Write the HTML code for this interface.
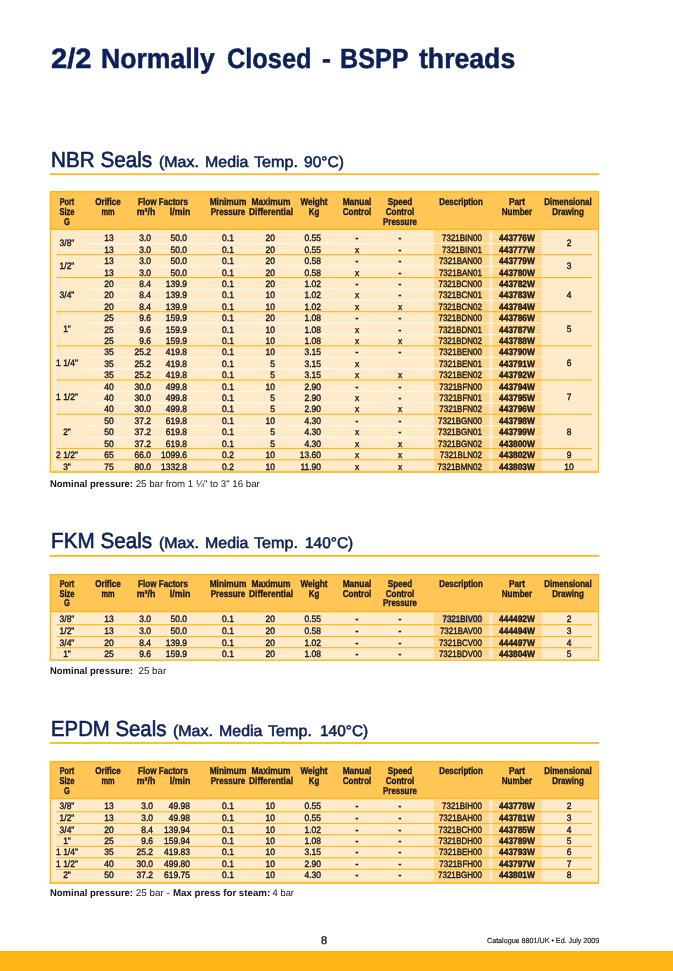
<!DOCTYPE html>
<html lang="en"><head><meta charset="utf-8"><title>2/2 Normally Closed - BSPP threads</title>
<style>

html,body{margin:0;padding:0;background:#fff}
#page{position:relative;width:673px;height:971px;overflow:hidden;background:#fff;font-family:"Liberation Sans",sans-serif}
#bg{position:absolute;left:0;top:0}
.t{text-rendering:geometricPrecision;position:absolute;white-space:pre;line-height:1;margin:0;padding:0;font-weight:400;display:block;--s:1}
.b{font-weight:700}
.l{transform:scaleX(var(--s));transform-origin:0 50%}
.c{transform:translateX(-50%) scaleX(var(--s));transform-origin:50% 50%}
.r{transform:translateX(-100%) scaleX(var(--s));transform-origin:100% 50%}
.p{display:inline-block;width:0;height:0;vertical-align:baseline}
.f0{font-size:27.8px;color:#0d2058;-webkit-text-stroke:0.5px #0d2058}
.f1{font-size:21.8px;color:#0d2058;-webkit-text-stroke:0.6px #0d2058}
.f2{font-size:15.4px;color:#0d2058;-webkit-text-stroke:0.55px #0d2058}
.f3{font-size:9.9px;color:#15151a;-webkit-text-stroke:0.32px #15151a}
.f4{font-size:9.3px;color:#15151a;-webkit-text-stroke:0.38px #15151a}
.f5{font-size:9.7px;color:#15151a}
.f6{font-size:11.2px;color:#15151a;-webkit-text-stroke:0.35px #15151a}
.f7{font-size:7.4px;color:#15151a;-webkit-text-stroke:0.15px #15151a}

</style></head>
<body><div id="page">
<svg id="bg" width="673" height="971" viewBox="0 0 673 971">
<rect x="49.80" y="173.30" width="549.50" height="1.80" fill="#fdb71a"/>
<rect x="49.80" y="554.95" width="549.50" height="1.80" fill="#fdb71a"/>
<rect x="49.80" y="742.10" width="549.50" height="1.80" fill="#fdb71a"/>
<rect x="49.70" y="190.90" width="549.50" height="39.10" fill="#fdb71a"/>
<rect x="51.20" y="192.40" width="546.70" height="36.20" fill="#ffc656"/>
<rect x="49.70" y="230.00" width="549.50" height="242.80" fill="#fdb71a"/>
<rect x="51.10" y="230.00" width="546.80" height="240.90" fill="#ffeaca"/>
<rect x="434.00" y="230.00" width="55.10" height="240.90" fill="#ffd994"/>
<rect x="492.80" y="230.00" width="49.00" height="240.90" fill="#ffd994"/>
<rect x="51.20" y="470.90" width="546.70" height="1.90" fill="#fec03c"/>
<rect x="84.00" y="243.00" width="457.10" height="1.00" fill="#fffbf3"/>
<rect x="56.50" y="254.15" width="535.60" height="1.10" fill="#fdb71a"/>
<rect x="84.00" y="265.79" width="457.10" height="1.00" fill="#fffbf3"/>
<rect x="56.50" y="276.94" width="535.60" height="1.10" fill="#fdb71a"/>
<rect x="84.00" y="288.59" width="457.10" height="1.00" fill="#fffbf3"/>
<rect x="84.00" y="299.99" width="457.10" height="1.00" fill="#fffbf3"/>
<rect x="56.50" y="311.13" width="535.60" height="1.10" fill="#fdb71a"/>
<rect x="84.00" y="322.78" width="457.10" height="1.00" fill="#fffbf3"/>
<rect x="84.00" y="334.18" width="457.10" height="1.00" fill="#fffbf3"/>
<rect x="56.50" y="345.32" width="535.60" height="1.10" fill="#fdb71a"/>
<rect x="84.00" y="356.97" width="457.10" height="1.00" fill="#fffbf3"/>
<rect x="84.00" y="368.37" width="457.10" height="1.00" fill="#fffbf3"/>
<rect x="56.50" y="379.51" width="535.60" height="1.10" fill="#fdb71a"/>
<rect x="84.00" y="391.16" width="457.10" height="1.00" fill="#fffbf3"/>
<rect x="84.00" y="402.56" width="457.10" height="1.00" fill="#fffbf3"/>
<rect x="56.50" y="413.71" width="535.60" height="1.10" fill="#fdb71a"/>
<rect x="84.00" y="425.35" width="457.10" height="1.00" fill="#fffbf3"/>
<rect x="84.00" y="436.75" width="457.10" height="1.00" fill="#fffbf3"/>
<rect x="56.50" y="447.90" width="535.60" height="1.10" fill="#fdb71a"/>
<rect x="56.50" y="459.29" width="535.60" height="1.10" fill="#fdb71a"/>
<rect x="49.70" y="573.90" width="549.50" height="38.50" fill="#fdb71a"/>
<rect x="51.20" y="575.40" width="546.70" height="35.40" fill="#ffc656"/>
<rect x="49.70" y="612.40" width="549.50" height="48.60" fill="#fdb71a"/>
<rect x="51.10" y="612.40" width="546.80" height="47.20" fill="#ffeaca"/>
<rect x="434.00" y="612.40" width="55.10" height="47.20" fill="#ffd994"/>
<rect x="492.80" y="612.40" width="49.00" height="47.20" fill="#ffd994"/>
<rect x="51.20" y="659.60" width="546.70" height="1.40" fill="#fec03c"/>
<rect x="56.50" y="624.15" width="535.60" height="1.10" fill="#fdb71a"/>
<rect x="56.50" y="636.05" width="535.60" height="1.10" fill="#fdb71a"/>
<rect x="56.50" y="647.15" width="535.60" height="1.10" fill="#fdb71a"/>
<rect x="443" y="615.6" width="39.4" height="7.6" fill="#5f86a8" fill-opacity="0.30"/>
<rect x="49.70" y="760.90" width="549.50" height="38.60" fill="#fdb71a"/>
<rect x="51.20" y="762.40" width="546.70" height="35.50" fill="#ffc656"/>
<rect x="49.70" y="799.50" width="549.50" height="84.40" fill="#fdb71a"/>
<rect x="51.10" y="799.50" width="546.80" height="82.40" fill="#ffeaca"/>
<rect x="434.00" y="799.50" width="55.10" height="82.40" fill="#ffd994"/>
<rect x="492.80" y="799.50" width="49.00" height="82.40" fill="#ffd994"/>
<rect x="51.20" y="881.90" width="546.70" height="2.00" fill="#fec03c"/>
<rect x="56.50" y="811.25" width="535.60" height="1.10" fill="#fdb71a"/>
<rect x="56.50" y="822.95" width="535.60" height="1.10" fill="#fdb71a"/>
<rect x="56.50" y="834.15" width="535.60" height="1.10" fill="#fdb71a"/>
<rect x="56.50" y="845.75" width="535.60" height="1.10" fill="#fdb71a"/>
<rect x="56.50" y="857.25" width="535.60" height="1.10" fill="#fdb71a"/>
<rect x="56.50" y="868.75" width="535.60" height="1.10" fill="#fdb71a"/>
<rect x="0.00" y="951.00" width="673.00" height="20.00" fill="#fdb515"/>
</svg>
<span class="t l f0 b" style="left:51.2px;top:45.41px;--s:1.0503">2/2</span>
<span class="t l f0 b" style="left:100.7px;top:45.41px;--s:0.9567">Normally</span>
<span class="t l f0 b" style="left:227px;top:45.41px;--s:0.9127">Closed</span>
<span class="t l f0 b" style="left:321.6px;top:45.41px;--s:0.9713">-</span>
<span class="t l f0 b" style="left:340.3px;top:45.41px;--s:0.9035">BSPP</span>
<span class="t l f0 b" style="left:419.2px;top:45.41px;--s:0.958">threads</span>
<span class="t l f1" style="left:51px;top:148.7px;--s:0.9483">NBR Seals</span>
<span class="t l f2" style="left:158.8px;top:154.72px;--s:1.0368">(Max.</span>
<span class="t l f2" style="left:204.5px;top:154.72px;--s:1.0353">Media</span>
<span class="t l f2" style="left:253.7px;top:154.72px;--s:1.052">Temp.</span>
<span class="t l f2" style="left:304.3px;top:154.72px;--s:1.0123">90°C)</span>
<span class="t l f1" style="left:51px;top:529.82px;--s:0.9485">FKM Seals</span>
<span class="t l f2" style="left:158.8px;top:535.81px;--s:1.0368">(Max.</span>
<span class="t l f2" style="left:204.5px;top:535.81px;--s:1.0353">Media</span>
<span class="t l f2" style="left:253.7px;top:535.81px;--s:1.052">Temp.</span>
<span class="t l f2" style="left:305.3px;top:535.81px;--s:1.0025">140°C)</span>
<span class="t l f1" style="left:51px;top:717.82px;--s:0.9339">EPDM Seals</span>
<span class="t l f2" style="left:173.1px;top:723.81px;--s:1.0368">(Max.</span>
<span class="t l f2" style="left:218.8px;top:723.81px;--s:1.0353">Media</span>
<span class="t l f2" style="left:268px;top:723.81px;--s:1.052">Temp.</span>
<span class="t l f2" style="left:319.6px;top:723.81px;--s:1.0025">140°C)</span>
<span class="t c f3 b" style="left:67px;top:197.81px;--s:0.7342">Port</span>
<span class="t c f3 b" style="left:67px;top:207.7px;--s:0.764">Size</span>
<span class="t c f3 b" style="left:67px;top:217.81px;--s:0.7675">G</span>
<span class="t c f3 b" style="left:108px;top:197.81px;--s:0.8148">Orifice</span>
<span class="t c f3 b" style="left:108px;top:207.7px;--s:0.7459">mm</span>
<span class="t c f3 b" style="left:163.4px;top:197.81px;--s:0.8177">Flow Factors</span>
<span class="t c f3 b" style="left:146px;top:207.7px;--s:0.8869">m³/h</span>
<span class="t c f3 b" style="left:180px;top:207.7px;--s:0.8895">l/min</span>
<span class="t c f3 b" style="left:228.3px;top:197.81px;--s:0.8467">Minimum</span>
<span class="t c f3 b" style="left:228.3px;top:207.7px;--s:0.8207">Pressure</span>
<span class="t c f3 b" style="left:271.2px;top:197.81px;--s:0.8541">Maximum</span>
<span class="t c f3 b" style="left:271.2px;top:207.7px;--s:0.8528">Differential</span>
<span class="t c f3 b" style="left:314px;top:197.81px;--s:0.8309">Weight</span>
<span class="t c f3 b" style="left:314px;top:207.7px;--s:0.7972">Kg</span>
<span class="t c f3 b" style="left:357.1px;top:197.81px;--s:0.8433">Manual</span>
<span class="t c f3 b" style="left:357.1px;top:207.7px;--s:0.8174">Control</span>
<span class="t c f3 b" style="left:399.9px;top:197.81px;--s:0.8266">Speed</span>
<span class="t c f3 b" style="left:399.9px;top:207.7px;--s:0.8174">Control</span>
<span class="t c f3 b" style="left:399.9px;top:217.81px;--s:0.8018">Pressure</span>
<span class="t c f3 b" style="left:461.3px;top:197.81px;--s:0.8007">Description</span>
<span class="t c f3 b" style="left:517px;top:197.81px;--s:0.8429">Part</span>
<span class="t c f3 b" style="left:517px;top:207.7px;--s:0.8174">Number</span>
<span class="t c f3 b" style="left:568.4px;top:197.81px;--s:0.8072">Dimensional</span>
<span class="t c f3 b" style="left:568.4px;top:207.7px;--s:0.8135">Drawing</span>
<span class="t c f4" style="left:108.6px;top:233.81px;--s:0.91">13</span>
<span class="t r f4" style="left:151.2px;top:233.81px;--s:0.91">3.0</span>
<span class="t r f4" style="left:187px;top:233.81px;--s:0.91">50.0</span>
<span class="t c f4" style="left:228px;top:233.81px;--s:0.91">0.1</span>
<span class="t r f4" style="left:274.8px;top:233.81px;--s:0.91">20</span>
<span class="t r f4" style="left:321.2px;top:233.81px;--s:0.91">0.55</span>
<span class="t c f4 b" style="left:357px;top:233.81px;--s:0.91">-</span>
<span class="t c f4 b" style="left:399.8px;top:233.81px;--s:0.91">-</span>
<span class="t r f4" style="left:482.2px;top:233.81px;--s:0.8599">7321BIN00</span>
<span class="t c f4 b" style="left:516.9px;top:233.81px;--s:0.9009">443776W</span>
<span class="t c f4" style="left:108.6px;top:245.81px;--s:0.91">13</span>
<span class="t r f4" style="left:151.2px;top:245.81px;--s:0.91">3.0</span>
<span class="t r f4" style="left:187px;top:245.81px;--s:0.91">50.0</span>
<span class="t c f4" style="left:228px;top:245.81px;--s:0.91">0.1</span>
<span class="t r f4" style="left:274.8px;top:245.81px;--s:0.91">20</span>
<span class="t r f4" style="left:321.2px;top:245.81px;--s:0.91">0.55</span>
<span class="t c f4" style="left:357px;top:245.81px;--s:0.91">x</span>
<span class="t c f4 b" style="left:399.8px;top:245.81px;--s:0.91">-</span>
<span class="t r f4" style="left:482.2px;top:245.81px;--s:0.8599">7321BIN01</span>
<span class="t c f4 b" style="left:516.9px;top:245.81px;--s:0.9009">443777W</span>
<span class="t c f4" style="left:67px;top:239.3px;--s:0.91">3/8"</span>
<span class="t c f4" style="left:569px;top:239.3px;--s:0.91">2</span>
<span class="t c f4" style="left:108.6px;top:257.21px;--s:0.91">13</span>
<span class="t r f4" style="left:151.2px;top:257.21px;--s:0.91">3.0</span>
<span class="t r f4" style="left:187px;top:257.21px;--s:0.91">50.0</span>
<span class="t c f4" style="left:228px;top:257.21px;--s:0.91">0.1</span>
<span class="t r f4" style="left:274.8px;top:257.21px;--s:0.91">20</span>
<span class="t r f4" style="left:321.2px;top:257.21px;--s:0.91">0.58</span>
<span class="t c f4 b" style="left:357px;top:257.21px;--s:0.91">-</span>
<span class="t c f4 b" style="left:399.8px;top:257.21px;--s:0.91">-</span>
<span class="t r f4" style="left:482.2px;top:257.21px;--s:0.8599">7321BAN00</span>
<span class="t c f4 b" style="left:516.9px;top:257.21px;--s:0.9009">443779W</span>
<span class="t c f4" style="left:108.6px;top:268.6px;--s:0.91">13</span>
<span class="t r f4" style="left:151.2px;top:268.6px;--s:0.91">3.0</span>
<span class="t r f4" style="left:187px;top:268.6px;--s:0.91">50.0</span>
<span class="t c f4" style="left:228px;top:268.6px;--s:0.91">0.1</span>
<span class="t r f4" style="left:274.8px;top:268.6px;--s:0.91">20</span>
<span class="t r f4" style="left:321.2px;top:268.6px;--s:0.91">0.58</span>
<span class="t c f4" style="left:357px;top:268.6px;--s:0.91">x</span>
<span class="t c f4 b" style="left:399.8px;top:268.6px;--s:0.91">-</span>
<span class="t r f4" style="left:482.2px;top:268.6px;--s:0.8599">7321BAN01</span>
<span class="t c f4 b" style="left:516.9px;top:268.6px;--s:0.9009">443780W</span>
<span class="t c f4" style="left:67px;top:262.3px;--s:0.91">1/2"</span>
<span class="t c f4" style="left:569px;top:262.3px;--s:0.91">3</span>
<span class="t c f4" style="left:108.6px;top:280px;--s:0.91">20</span>
<span class="t r f4" style="left:151.2px;top:280px;--s:0.91">8.4</span>
<span class="t r f4" style="left:187px;top:280px;--s:0.91">139.9</span>
<span class="t c f4" style="left:228px;top:280px;--s:0.91">0.1</span>
<span class="t r f4" style="left:274.8px;top:280px;--s:0.91">20</span>
<span class="t r f4" style="left:321.2px;top:280px;--s:0.91">1.02</span>
<span class="t c f4 b" style="left:357px;top:280px;--s:0.91">-</span>
<span class="t c f4 b" style="left:399.8px;top:280px;--s:0.91">-</span>
<span class="t r f4" style="left:482.2px;top:280px;--s:0.8599">7321BCN00</span>
<span class="t c f4 b" style="left:516.9px;top:280px;--s:0.9009">443782W</span>
<span class="t c f4" style="left:108.6px;top:291.39px;--s:0.91">20</span>
<span class="t r f4" style="left:151.2px;top:291.39px;--s:0.91">8.4</span>
<span class="t r f4" style="left:187px;top:291.39px;--s:0.91">139.9</span>
<span class="t c f4" style="left:228px;top:291.39px;--s:0.91">0.1</span>
<span class="t r f4" style="left:274.8px;top:291.39px;--s:0.91">10</span>
<span class="t r f4" style="left:321.2px;top:291.39px;--s:0.91">1.02</span>
<span class="t c f4" style="left:357px;top:291.39px;--s:0.91">x</span>
<span class="t c f4 b" style="left:399.8px;top:291.39px;--s:0.91">-</span>
<span class="t r f4" style="left:482.2px;top:291.39px;--s:0.8599">7321BCN01</span>
<span class="t c f4 b" style="left:516.9px;top:291.39px;--s:0.9009">443783W</span>
<span class="t c f4" style="left:108.6px;top:302.8px;--s:0.91">20</span>
<span class="t r f4" style="left:151.2px;top:302.8px;--s:0.91">8.4</span>
<span class="t r f4" style="left:187px;top:302.8px;--s:0.91">139.9</span>
<span class="t c f4" style="left:228px;top:302.8px;--s:0.91">0.1</span>
<span class="t r f4" style="left:274.8px;top:302.8px;--s:0.91">10</span>
<span class="t r f4" style="left:321.2px;top:302.8px;--s:0.91">1.02</span>
<span class="t c f4" style="left:357px;top:302.8px;--s:0.91">x</span>
<span class="t c f4" style="left:399.8px;top:302.8px;--s:0.91">x</span>
<span class="t r f4" style="left:482.2px;top:302.8px;--s:0.8599">7321BCN02</span>
<span class="t c f4 b" style="left:516.9px;top:302.8px;--s:0.9009">443784W</span>
<span class="t c f4" style="left:67px;top:290.8px;--s:0.91">3/4"</span>
<span class="t c f4" style="left:569px;top:290.8px;--s:0.91">4</span>
<span class="t c f4" style="left:108.6px;top:314.18px;--s:0.91">25</span>
<span class="t r f4" style="left:151.2px;top:314.18px;--s:0.91">9.6</span>
<span class="t r f4" style="left:187px;top:314.18px;--s:0.91">159.9</span>
<span class="t c f4" style="left:228px;top:314.18px;--s:0.91">0.1</span>
<span class="t r f4" style="left:274.8px;top:314.18px;--s:0.91">20</span>
<span class="t r f4" style="left:321.2px;top:314.18px;--s:0.91">1.08</span>
<span class="t c f4 b" style="left:357px;top:314.18px;--s:0.91">-</span>
<span class="t c f4 b" style="left:399.8px;top:314.18px;--s:0.91">-</span>
<span class="t r f4" style="left:482.2px;top:314.18px;--s:0.8599">7321BDN00</span>
<span class="t c f4 b" style="left:516.9px;top:314.18px;--s:0.9009">443786W</span>
<span class="t c f4" style="left:108.6px;top:325.59px;--s:0.91">25</span>
<span class="t r f4" style="left:151.2px;top:325.59px;--s:0.91">9.6</span>
<span class="t r f4" style="left:187px;top:325.59px;--s:0.91">159.9</span>
<span class="t c f4" style="left:228px;top:325.59px;--s:0.91">0.1</span>
<span class="t r f4" style="left:274.8px;top:325.59px;--s:0.91">10</span>
<span class="t r f4" style="left:321.2px;top:325.59px;--s:0.91">1.08</span>
<span class="t c f4" style="left:357px;top:325.59px;--s:0.91">x</span>
<span class="t c f4 b" style="left:399.8px;top:325.59px;--s:0.91">-</span>
<span class="t r f4" style="left:482.2px;top:325.59px;--s:0.8599">7321BDN01</span>
<span class="t c f4 b" style="left:516.9px;top:325.59px;--s:0.9009">443787W</span>
<span class="t c f4" style="left:108.6px;top:336.98px;--s:0.91">25</span>
<span class="t r f4" style="left:151.2px;top:336.98px;--s:0.91">9.6</span>
<span class="t r f4" style="left:187px;top:336.98px;--s:0.91">159.9</span>
<span class="t c f4" style="left:228px;top:336.98px;--s:0.91">0.1</span>
<span class="t r f4" style="left:274.8px;top:336.98px;--s:0.91">10</span>
<span class="t r f4" style="left:321.2px;top:336.98px;--s:0.91">1.08</span>
<span class="t c f4" style="left:357px;top:336.98px;--s:0.91">x</span>
<span class="t c f4" style="left:399.8px;top:336.98px;--s:0.91">x</span>
<span class="t r f4" style="left:482.2px;top:336.98px;--s:0.8599">7321BDN02</span>
<span class="t c f4 b" style="left:516.9px;top:336.98px;--s:0.9009">443788W</span>
<span class="t c f4" style="left:67px;top:324.98px;--s:0.91">1"</span>
<span class="t c f4" style="left:569px;top:324.98px;--s:0.91">5</span>
<span class="t c f4" style="left:108.6px;top:348.38px;--s:0.91">35</span>
<span class="t r f4" style="left:151.2px;top:348.38px;--s:0.91">25.2</span>
<span class="t r f4" style="left:187px;top:348.38px;--s:0.91">419.8</span>
<span class="t c f4" style="left:228px;top:348.38px;--s:0.91">0.1</span>
<span class="t r f4" style="left:274.8px;top:348.38px;--s:0.91">10</span>
<span class="t r f4" style="left:321.2px;top:348.38px;--s:0.91">3.15</span>
<span class="t c f4 b" style="left:357px;top:348.38px;--s:0.91">-</span>
<span class="t c f4 b" style="left:399.8px;top:348.38px;--s:0.91">-</span>
<span class="t r f4" style="left:482.2px;top:348.38px;--s:0.8599">7321BEN00</span>
<span class="t c f4 b" style="left:516.9px;top:348.38px;--s:0.9009">443790W</span>
<span class="t c f4" style="left:108.6px;top:359.79px;--s:0.91">35</span>
<span class="t r f4" style="left:151.2px;top:359.79px;--s:0.91">25.2</span>
<span class="t r f4" style="left:187px;top:359.79px;--s:0.91">419.8</span>
<span class="t c f4" style="left:228px;top:359.79px;--s:0.91">0.1</span>
<span class="t r f4" style="left:274.8px;top:359.79px;--s:0.91">5</span>
<span class="t r f4" style="left:321.2px;top:359.79px;--s:0.91">3.15</span>
<span class="t c f4" style="left:357px;top:359.79px;--s:0.91">x</span>
<span class="t r f4" style="left:482.2px;top:359.79px;--s:0.8599">7321BEN01</span>
<span class="t c f4 b" style="left:516.9px;top:359.79px;--s:0.9009">443791W</span>
<span class="t c f4" style="left:108.6px;top:371.18px;--s:0.91">35</span>
<span class="t r f4" style="left:151.2px;top:371.18px;--s:0.91">25.2</span>
<span class="t r f4" style="left:187px;top:371.18px;--s:0.91">419.8</span>
<span class="t c f4" style="left:228px;top:371.18px;--s:0.91">0.1</span>
<span class="t r f4" style="left:274.8px;top:371.18px;--s:0.91">5</span>
<span class="t r f4" style="left:321.2px;top:371.18px;--s:0.91">3.15</span>
<span class="t c f4" style="left:357px;top:371.18px;--s:0.91">x</span>
<span class="t c f4" style="left:399.8px;top:371.18px;--s:0.91">x</span>
<span class="t r f4" style="left:482.2px;top:371.18px;--s:0.8599">7321BEN02</span>
<span class="t c f4 b" style="left:516.9px;top:371.18px;--s:0.9009">443792W</span>
<span class="t c f4" style="left:67px;top:359.18px;--s:0.91">1 1/4"</span>
<span class="t c f4" style="left:569px;top:359.18px;--s:0.91">6</span>
<span class="t c f4" style="left:108.6px;top:382.57px;--s:0.91">40</span>
<span class="t r f4" style="left:151.2px;top:382.57px;--s:0.91">30.0</span>
<span class="t r f4" style="left:187px;top:382.57px;--s:0.91">499.8</span>
<span class="t c f4" style="left:228px;top:382.57px;--s:0.91">0.1</span>
<span class="t r f4" style="left:274.8px;top:382.57px;--s:0.91">10</span>
<span class="t r f4" style="left:321.2px;top:382.57px;--s:0.91">2.90</span>
<span class="t c f4 b" style="left:357px;top:382.57px;--s:0.91">-</span>
<span class="t c f4 b" style="left:399.8px;top:382.57px;--s:0.91">-</span>
<span class="t r f4" style="left:482.2px;top:382.57px;--s:0.8599">7321BFN00</span>
<span class="t c f4 b" style="left:516.9px;top:382.57px;--s:0.9009">443794W</span>
<span class="t c f4" style="left:108.6px;top:393.97px;--s:0.91">40</span>
<span class="t r f4" style="left:151.2px;top:393.97px;--s:0.91">30.0</span>
<span class="t r f4" style="left:187px;top:393.97px;--s:0.91">499.8</span>
<span class="t c f4" style="left:228px;top:393.97px;--s:0.91">0.1</span>
<span class="t r f4" style="left:274.8px;top:393.97px;--s:0.91">5</span>
<span class="t r f4" style="left:321.2px;top:393.97px;--s:0.91">2.90</span>
<span class="t c f4" style="left:357px;top:393.97px;--s:0.91">x</span>
<span class="t c f4 b" style="left:399.8px;top:393.97px;--s:0.91">-</span>
<span class="t r f4" style="left:482.2px;top:393.97px;--s:0.8599">7321BFN01</span>
<span class="t c f4 b" style="left:516.9px;top:393.97px;--s:0.9009">443795W</span>
<span class="t c f4" style="left:108.6px;top:405.36px;--s:0.91">40</span>
<span class="t r f4" style="left:151.2px;top:405.36px;--s:0.91">30.0</span>
<span class="t r f4" style="left:187px;top:405.36px;--s:0.91">499.8</span>
<span class="t c f4" style="left:228px;top:405.36px;--s:0.91">0.1</span>
<span class="t r f4" style="left:274.8px;top:405.36px;--s:0.91">5</span>
<span class="t r f4" style="left:321.2px;top:405.36px;--s:0.91">2.90</span>
<span class="t c f4" style="left:357px;top:405.36px;--s:0.91">x</span>
<span class="t c f4" style="left:399.8px;top:405.36px;--s:0.91">x</span>
<span class="t r f4" style="left:482.2px;top:405.36px;--s:0.8599">7321BFN02</span>
<span class="t c f4 b" style="left:516.9px;top:405.36px;--s:0.9009">443796W</span>
<span class="t c f4" style="left:67px;top:393.36px;--s:0.91">1 1/2"</span>
<span class="t c f4" style="left:569px;top:393.36px;--s:0.91">7</span>
<span class="t c f4" style="left:108.6px;top:416.76px;--s:0.91">50</span>
<span class="t r f4" style="left:151.2px;top:416.76px;--s:0.91">37.2</span>
<span class="t r f4" style="left:187px;top:416.76px;--s:0.91">619.8</span>
<span class="t c f4" style="left:228px;top:416.76px;--s:0.91">0.1</span>
<span class="t r f4" style="left:274.8px;top:416.76px;--s:0.91">10</span>
<span class="t r f4" style="left:321.2px;top:416.76px;--s:0.91">4.30</span>
<span class="t c f4 b" style="left:357px;top:416.76px;--s:0.91">-</span>
<span class="t c f4 b" style="left:399.8px;top:416.76px;--s:0.91">-</span>
<span class="t r f4" style="left:482.2px;top:416.76px;--s:0.8599">7321BGN00</span>
<span class="t c f4 b" style="left:516.9px;top:416.76px;--s:0.9009">443798W</span>
<span class="t c f4" style="left:108.6px;top:428.15px;--s:0.91">50</span>
<span class="t r f4" style="left:151.2px;top:428.15px;--s:0.91">37.2</span>
<span class="t r f4" style="left:187px;top:428.15px;--s:0.91">619.8</span>
<span class="t c f4" style="left:228px;top:428.15px;--s:0.91">0.1</span>
<span class="t r f4" style="left:274.8px;top:428.15px;--s:0.91">5</span>
<span class="t r f4" style="left:321.2px;top:428.15px;--s:0.91">4.30</span>
<span class="t c f4" style="left:357px;top:428.15px;--s:0.91">x</span>
<span class="t c f4 b" style="left:399.8px;top:428.15px;--s:0.91">-</span>
<span class="t r f4" style="left:482.2px;top:428.15px;--s:0.8599">7321BGN01</span>
<span class="t c f4 b" style="left:516.9px;top:428.15px;--s:0.9009">443799W</span>
<span class="t c f4" style="left:108.6px;top:439.56px;--s:0.91">50</span>
<span class="t r f4" style="left:151.2px;top:439.56px;--s:0.91">37.2</span>
<span class="t r f4" style="left:187px;top:439.56px;--s:0.91">619.8</span>
<span class="t c f4" style="left:228px;top:439.56px;--s:0.91">0.1</span>
<span class="t r f4" style="left:274.8px;top:439.56px;--s:0.91">5</span>
<span class="t r f4" style="left:321.2px;top:439.56px;--s:0.91">4.30</span>
<span class="t c f4" style="left:357px;top:439.56px;--s:0.91">x</span>
<span class="t c f4" style="left:399.8px;top:439.56px;--s:0.91">x</span>
<span class="t r f4" style="left:482.2px;top:439.56px;--s:0.8599">7321BGN02</span>
<span class="t c f4 b" style="left:516.9px;top:439.56px;--s:0.9009">443800W</span>
<span class="t c f4" style="left:67px;top:427.56px;--s:0.91">2"</span>
<span class="t c f4" style="left:569px;top:427.56px;--s:0.91">8</span>
<span class="t c f4" style="left:108.6px;top:450.95px;--s:0.91">65</span>
<span class="t r f4" style="left:151.2px;top:450.95px;--s:0.91">66.0</span>
<span class="t r f4" style="left:187px;top:450.95px;--s:0.91">1099.6</span>
<span class="t c f4" style="left:228px;top:450.95px;--s:0.91">0.2</span>
<span class="t r f4" style="left:274.8px;top:450.95px;--s:0.91">10</span>
<span class="t r f4" style="left:321.2px;top:450.95px;--s:0.91">13.60</span>
<span class="t c f4" style="left:357px;top:450.95px;--s:0.91">x</span>
<span class="t c f4" style="left:399.8px;top:450.95px;--s:0.91">x</span>
<span class="t r f4" style="left:482.2px;top:450.95px;--s:0.8599">7321BLN02</span>
<span class="t c f4 b" style="left:516.9px;top:450.95px;--s:0.9009">443802W</span>
<span class="t c f4" style="left:67px;top:450.95px;--s:0.91">2 1/2"</span>
<span class="t c f4" style="left:569px;top:450.95px;--s:0.91">9</span>
<span class="t c f4" style="left:108.6px;top:462.9px;--s:0.91">75</span>
<span class="t r f4" style="left:151.2px;top:462.9px;--s:0.91">80.0</span>
<span class="t r f4" style="left:187px;top:462.9px;--s:0.91">1332.8</span>
<span class="t c f4" style="left:228px;top:462.9px;--s:0.91">0.2</span>
<span class="t r f4" style="left:274.8px;top:462.9px;--s:0.91">10</span>
<span class="t r f4" style="left:321.2px;top:462.9px;--s:0.91">11.90</span>
<span class="t c f4" style="left:357px;top:462.9px;--s:0.91">x</span>
<span class="t c f4" style="left:399.8px;top:462.9px;--s:0.91">x</span>
<span class="t r f4" style="left:482.2px;top:462.9px;--s:0.8599">7321BMN02</span>
<span class="t c f4 b" style="left:516.9px;top:462.9px;--s:0.9009">443803W</span>
<span class="t c f4" style="left:67px;top:462.9px;--s:0.91">3"</span>
<span class="t c f4" style="left:569px;top:462.9px;--s:0.91">10</span>
<span class="t l f5 b" style="left:50px;top:480.41px;--s:0.9758">Nominal pressure:</span>
<span class="t l f5" style="left:133px;top:480.41px;--s:0.9987"> 25 bar from 1 ¼" to 3" 16 bar</span>
<span class="t c f3 b" style="left:67px;top:579.91px;--s:0.7342">Port</span>
<span class="t c f3 b" style="left:67px;top:589.81px;--s:0.764">Size</span>
<span class="t c f3 b" style="left:67px;top:598.7px;--s:0.7675">G</span>
<span class="t c f3 b" style="left:108px;top:579.91px;--s:0.8148">Orifice</span>
<span class="t c f3 b" style="left:108px;top:589.81px;--s:0.7459">mm</span>
<span class="t c f3 b" style="left:163.4px;top:579.91px;--s:0.8177">Flow Factors</span>
<span class="t c f3 b" style="left:146px;top:589.81px;--s:0.8869">m³/h</span>
<span class="t c f3 b" style="left:180px;top:589.81px;--s:0.8895">l/min</span>
<span class="t c f3 b" style="left:228.3px;top:579.91px;--s:0.8467">Minimum</span>
<span class="t c f3 b" style="left:228.3px;top:589.81px;--s:0.8207">Pressure</span>
<span class="t c f3 b" style="left:271.2px;top:579.91px;--s:0.8541">Maximum</span>
<span class="t c f3 b" style="left:271.2px;top:589.81px;--s:0.8528">Differential</span>
<span class="t c f3 b" style="left:314px;top:579.91px;--s:0.8309">Weight</span>
<span class="t c f3 b" style="left:314px;top:589.81px;--s:0.7972">Kg</span>
<span class="t c f3 b" style="left:357.1px;top:579.91px;--s:0.8433">Manual</span>
<span class="t c f3 b" style="left:357.1px;top:589.81px;--s:0.8174">Control</span>
<span class="t c f3 b" style="left:399.9px;top:579.91px;--s:0.8266">Speed</span>
<span class="t c f3 b" style="left:399.9px;top:589.81px;--s:0.8174">Control</span>
<span class="t c f3 b" style="left:399.9px;top:598.7px;--s:0.8018">Pressure</span>
<span class="t c f3 b" style="left:461.3px;top:579.91px;--s:0.8007">Description</span>
<span class="t c f3 b" style="left:517px;top:579.91px;--s:0.8429">Part</span>
<span class="t c f3 b" style="left:517px;top:589.81px;--s:0.8174">Number</span>
<span class="t c f3 b" style="left:568.4px;top:579.91px;--s:0.8072">Dimensional</span>
<span class="t c f3 b" style="left:568.4px;top:589.81px;--s:0.8135">Drawing</span>
<span class="t c f4" style="left:108.6px;top:615.31px;--s:0.91">13</span>
<span class="t r f4" style="left:151.2px;top:615.31px;--s:0.91">3.0</span>
<span class="t r f4" style="left:187px;top:615.31px;--s:0.91">50.0</span>
<span class="t c f4" style="left:228px;top:615.31px;--s:0.91">0.1</span>
<span class="t r f4" style="left:274.8px;top:615.31px;--s:0.91">20</span>
<span class="t r f4" style="left:321.2px;top:615.31px;--s:0.91">0.55</span>
<span class="t c f4 b" style="left:357px;top:615.31px;--s:0.91">-</span>
<span class="t c f4 b" style="left:399.8px;top:615.31px;--s:0.91">-</span>
<span class="t r f4" style="left:482.2px;top:615.31px;--s:0.8599">7321BIV00</span>
<span class="t c f4 b" style="left:516.9px;top:615.31px;--s:0.9009">444492W</span>
<span class="t c f4" style="left:67px;top:615.31px;--s:0.91">3/8"</span>
<span class="t c f4" style="left:569px;top:615.31px;--s:0.91">2</span>
<span class="t c f4" style="left:108.6px;top:626.9px;--s:0.91">13</span>
<span class="t r f4" style="left:151.2px;top:626.9px;--s:0.91">3.0</span>
<span class="t r f4" style="left:187px;top:626.9px;--s:0.91">50.0</span>
<span class="t c f4" style="left:228px;top:626.9px;--s:0.91">0.1</span>
<span class="t r f4" style="left:274.8px;top:626.9px;--s:0.91">20</span>
<span class="t r f4" style="left:321.2px;top:626.9px;--s:0.91">0.58</span>
<span class="t c f4 b" style="left:357px;top:626.9px;--s:0.91">-</span>
<span class="t c f4 b" style="left:399.8px;top:626.9px;--s:0.91">-</span>
<span class="t r f4" style="left:482.2px;top:626.9px;--s:0.8599">7321BAV00</span>
<span class="t c f4 b" style="left:516.9px;top:626.9px;--s:0.9009">444494W</span>
<span class="t c f4" style="left:67px;top:626.9px;--s:0.91">1/2"</span>
<span class="t c f4" style="left:569px;top:626.9px;--s:0.91">3</span>
<span class="t c f4" style="left:108.6px;top:638.6px;--s:0.91">20</span>
<span class="t r f4" style="left:151.2px;top:638.6px;--s:0.91">8.4</span>
<span class="t r f4" style="left:187px;top:638.6px;--s:0.91">139.9</span>
<span class="t c f4" style="left:228px;top:638.6px;--s:0.91">0.1</span>
<span class="t r f4" style="left:274.8px;top:638.6px;--s:0.91">20</span>
<span class="t r f4" style="left:321.2px;top:638.6px;--s:0.91">1.02</span>
<span class="t c f4 b" style="left:357px;top:638.6px;--s:0.91">-</span>
<span class="t c f4 b" style="left:399.8px;top:638.6px;--s:0.91">-</span>
<span class="t r f4" style="left:482.2px;top:638.6px;--s:0.8599">7321BCV00</span>
<span class="t c f4 b" style="left:516.9px;top:638.6px;--s:0.9009">444497W</span>
<span class="t c f4" style="left:67px;top:638.6px;--s:0.91">3/4"</span>
<span class="t c f4" style="left:569px;top:638.6px;--s:0.91">4</span>
<span class="t c f4" style="left:108.6px;top:649.9px;--s:0.91">25</span>
<span class="t r f4" style="left:151.2px;top:649.9px;--s:0.91">9.6</span>
<span class="t r f4" style="left:187px;top:649.9px;--s:0.91">159.9</span>
<span class="t c f4" style="left:228px;top:649.9px;--s:0.91">0.1</span>
<span class="t r f4" style="left:274.8px;top:649.9px;--s:0.91">20</span>
<span class="t r f4" style="left:321.2px;top:649.9px;--s:0.91">1.08</span>
<span class="t c f4 b" style="left:357px;top:649.9px;--s:0.91">-</span>
<span class="t c f4 b" style="left:399.8px;top:649.9px;--s:0.91">-</span>
<span class="t r f4" style="left:482.2px;top:649.9px;--s:0.8599">7321BDV00</span>
<span class="t c f4 b" style="left:516.9px;top:649.9px;--s:0.9009">443804W</span>
<span class="t c f4" style="left:67px;top:649.9px;--s:0.91">1"</span>
<span class="t c f4" style="left:569px;top:649.9px;--s:0.91">5</span>
<span class="t l f5 b" style="left:50px;top:667.1px;--s:0.9758">Nominal pressure:</span>
<span class="t l f5" style="left:133px;top:667.1px;--s:1.0104">  25 bar</span>
<span class="t c f3 b" style="left:67px;top:766.7px;--s:0.7342">Port</span>
<span class="t c f3 b" style="left:67px;top:776.61px;--s:0.764">Size</span>
<span class="t c f3 b" style="left:67px;top:786.61px;--s:0.7675">G</span>
<span class="t c f3 b" style="left:108px;top:766.7px;--s:0.8148">Orifice</span>
<span class="t c f3 b" style="left:108px;top:776.61px;--s:0.7459">mm</span>
<span class="t c f3 b" style="left:163.4px;top:766.7px;--s:0.8177">Flow Factors</span>
<span class="t c f3 b" style="left:146px;top:776.61px;--s:0.8869">m³/h</span>
<span class="t c f3 b" style="left:180px;top:776.61px;--s:0.8895">l/min</span>
<span class="t c f3 b" style="left:228.3px;top:766.7px;--s:0.8467">Minimum</span>
<span class="t c f3 b" style="left:228.3px;top:776.61px;--s:0.8207">Pressure</span>
<span class="t c f3 b" style="left:271.2px;top:766.7px;--s:0.8541">Maximum</span>
<span class="t c f3 b" style="left:271.2px;top:776.61px;--s:0.8528">Differential</span>
<span class="t c f3 b" style="left:314px;top:766.7px;--s:0.8309">Weight</span>
<span class="t c f3 b" style="left:314px;top:776.61px;--s:0.7972">Kg</span>
<span class="t c f3 b" style="left:357.1px;top:766.7px;--s:0.8433">Manual</span>
<span class="t c f3 b" style="left:357.1px;top:776.61px;--s:0.8174">Control</span>
<span class="t c f3 b" style="left:399.9px;top:766.7px;--s:0.8266">Speed</span>
<span class="t c f3 b" style="left:399.9px;top:776.61px;--s:0.8174">Control</span>
<span class="t c f3 b" style="left:399.9px;top:786.61px;--s:0.8018">Pressure</span>
<span class="t c f3 b" style="left:461.3px;top:766.7px;--s:0.8007">Description</span>
<span class="t c f3 b" style="left:517px;top:766.7px;--s:0.8429">Part</span>
<span class="t c f3 b" style="left:517px;top:776.61px;--s:0.8174">Number</span>
<span class="t c f3 b" style="left:568.4px;top:766.7px;--s:0.8072">Dimensional</span>
<span class="t c f3 b" style="left:568.4px;top:776.61px;--s:0.8135">Drawing</span>
<span class="t c f4" style="left:108.6px;top:802.4px;--s:0.91">13</span>
<span class="t r f4" style="left:152.9px;top:802.4px;--s:0.91">3.0</span>
<span class="t r f4" style="left:190.4px;top:802.4px;--s:0.91">49.98</span>
<span class="t c f4" style="left:228px;top:802.4px;--s:0.91">0.1</span>
<span class="t r f4" style="left:274.8px;top:802.4px;--s:0.91">10</span>
<span class="t r f4" style="left:321.2px;top:802.4px;--s:0.91">0.55</span>
<span class="t c f4 b" style="left:357px;top:802.4px;--s:0.91">-</span>
<span class="t c f4 b" style="left:399.8px;top:802.4px;--s:0.91">-</span>
<span class="t r f4" style="left:482.2px;top:802.4px;--s:0.8599">7321BIH00</span>
<span class="t c f4 b" style="left:516.9px;top:802.4px;--s:0.9009">443778W</span>
<span class="t c f4" style="left:67px;top:802.4px;--s:0.91">3/8"</span>
<span class="t c f4" style="left:569px;top:802.4px;--s:0.91">2</span>
<span class="t c f4" style="left:108.6px;top:814.21px;--s:0.91">13</span>
<span class="t r f4" style="left:152.9px;top:814.21px;--s:0.91">3.0</span>
<span class="t r f4" style="left:190.4px;top:814.21px;--s:0.91">49.98</span>
<span class="t c f4" style="left:228px;top:814.21px;--s:0.91">0.1</span>
<span class="t r f4" style="left:274.8px;top:814.21px;--s:0.91">10</span>
<span class="t r f4" style="left:321.2px;top:814.21px;--s:0.91">0.55</span>
<span class="t c f4 b" style="left:357px;top:814.21px;--s:0.91">-</span>
<span class="t c f4 b" style="left:399.8px;top:814.21px;--s:0.91">-</span>
<span class="t r f4" style="left:482.2px;top:814.21px;--s:0.8599">7321BAH00</span>
<span class="t c f4 b" style="left:516.9px;top:814.21px;--s:0.9009">443781W</span>
<span class="t c f4" style="left:67px;top:814.21px;--s:0.91">1/2"</span>
<span class="t c f4" style="left:569px;top:814.21px;--s:0.91">3</span>
<span class="t c f4" style="left:108.6px;top:825.5px;--s:0.91">20</span>
<span class="t r f4" style="left:152.9px;top:825.5px;--s:0.91">8.4</span>
<span class="t r f4" style="left:190.4px;top:825.5px;--s:0.91">139.94</span>
<span class="t c f4" style="left:228px;top:825.5px;--s:0.91">0.1</span>
<span class="t r f4" style="left:274.8px;top:825.5px;--s:0.91">10</span>
<span class="t r f4" style="left:321.2px;top:825.5px;--s:0.91">1.02</span>
<span class="t c f4 b" style="left:357px;top:825.5px;--s:0.91">-</span>
<span class="t c f4 b" style="left:399.8px;top:825.5px;--s:0.91">-</span>
<span class="t r f4" style="left:482.2px;top:825.5px;--s:0.8599">7321BCH00</span>
<span class="t c f4 b" style="left:516.9px;top:825.5px;--s:0.9009">443785W</span>
<span class="t c f4" style="left:67px;top:825.5px;--s:0.91">3/4"</span>
<span class="t c f4" style="left:569px;top:825.5px;--s:0.91">4</span>
<span class="t c f4" style="left:108.6px;top:836.6px;--s:0.91">25</span>
<span class="t r f4" style="left:152.9px;top:836.6px;--s:0.91">9.6</span>
<span class="t r f4" style="left:190.4px;top:836.6px;--s:0.91">159.94</span>
<span class="t c f4" style="left:228px;top:836.6px;--s:0.91">0.1</span>
<span class="t r f4" style="left:274.8px;top:836.6px;--s:0.91">10</span>
<span class="t r f4" style="left:321.2px;top:836.6px;--s:0.91">1.08</span>
<span class="t c f4 b" style="left:357px;top:836.6px;--s:0.91">-</span>
<span class="t c f4 b" style="left:399.8px;top:836.6px;--s:0.91">-</span>
<span class="t r f4" style="left:482.2px;top:836.6px;--s:0.8599">7321BDH00</span>
<span class="t c f4 b" style="left:516.9px;top:836.6px;--s:0.9009">443789W</span>
<span class="t c f4" style="left:67px;top:836.6px;--s:0.91">1"</span>
<span class="t c f4" style="left:569px;top:836.6px;--s:0.91">5</span>
<span class="t c f4" style="left:108.6px;top:848.4px;--s:0.91">35</span>
<span class="t r f4" style="left:152.9px;top:848.4px;--s:0.91">25.2</span>
<span class="t r f4" style="left:190.4px;top:848.4px;--s:0.91">419.83</span>
<span class="t c f4" style="left:228px;top:848.4px;--s:0.91">0.1</span>
<span class="t r f4" style="left:274.8px;top:848.4px;--s:0.91">10</span>
<span class="t r f4" style="left:321.2px;top:848.4px;--s:0.91">3.15</span>
<span class="t c f4 b" style="left:357px;top:848.4px;--s:0.91">-</span>
<span class="t c f4 b" style="left:399.8px;top:848.4px;--s:0.91">-</span>
<span class="t r f4" style="left:482.2px;top:848.4px;--s:0.8599">7321BEH00</span>
<span class="t c f4 b" style="left:516.9px;top:848.4px;--s:0.9009">443793W</span>
<span class="t c f4" style="left:67px;top:848.4px;--s:0.91">1 1/4"</span>
<span class="t c f4" style="left:569px;top:848.4px;--s:0.91">6</span>
<span class="t c f4" style="left:108.6px;top:859.81px;--s:0.91">40</span>
<span class="t r f4" style="left:152.9px;top:859.81px;--s:0.91">30.0</span>
<span class="t r f4" style="left:190.4px;top:859.81px;--s:0.91">499.80</span>
<span class="t c f4" style="left:228px;top:859.81px;--s:0.91">0.1</span>
<span class="t r f4" style="left:274.8px;top:859.81px;--s:0.91">10</span>
<span class="t r f4" style="left:321.2px;top:859.81px;--s:0.91">2.90</span>
<span class="t c f4 b" style="left:357px;top:859.81px;--s:0.91">-</span>
<span class="t c f4 b" style="left:399.8px;top:859.81px;--s:0.91">-</span>
<span class="t r f4" style="left:482.2px;top:859.81px;--s:0.8599">7321BFH00</span>
<span class="t c f4 b" style="left:516.9px;top:859.81px;--s:0.9009">443797W</span>
<span class="t c f4" style="left:67px;top:859.81px;--s:0.91">1 1/2"</span>
<span class="t c f4" style="left:569px;top:859.81px;--s:0.91">7</span>
<span class="t c f4" style="left:108.6px;top:871.31px;--s:0.91">50</span>
<span class="t r f4" style="left:152.9px;top:871.31px;--s:0.91">37.2</span>
<span class="t r f4" style="left:190.4px;top:871.31px;--s:0.91">619.75</span>
<span class="t c f4" style="left:228px;top:871.31px;--s:0.91">0.1</span>
<span class="t r f4" style="left:274.8px;top:871.31px;--s:0.91">10</span>
<span class="t r f4" style="left:321.2px;top:871.31px;--s:0.91">4.30</span>
<span class="t c f4 b" style="left:357px;top:871.31px;--s:0.91">-</span>
<span class="t c f4 b" style="left:399.8px;top:871.31px;--s:0.91">-</span>
<span class="t r f4" style="left:482.2px;top:871.31px;--s:0.8599">7321BGH00</span>
<span class="t c f4 b" style="left:516.9px;top:871.31px;--s:0.9009">443801W</span>
<span class="t c f4" style="left:67px;top:871.31px;--s:0.91">2"</span>
<span class="t c f4" style="left:569px;top:871.31px;--s:0.91">8</span>
<span class="t l f5 b" style="left:50px;top:889.01px;--s:0.9758">Nominal pressure:</span>
<span class="t l f5" style="left:133px;top:889.01px;--s:1.0185"> 25 bar - </span>
<span class="t l f5 b" style="left:172.5px;top:889.01px;--s:1.0029">Max press for steam:</span>
<span class="t l f5" style="left:269.7px;top:889.01px;--s:0.9685"> 4 bar</span>
<span class="t l f6" style="left:321px;top:936.21px;--s:0.9945">8</span>
<span class="t l f7" style="left:487px;top:937.21px;--s:0.9672">Catalogue 8801/UK • Ed. July 2009</span>
</div></body></html>
